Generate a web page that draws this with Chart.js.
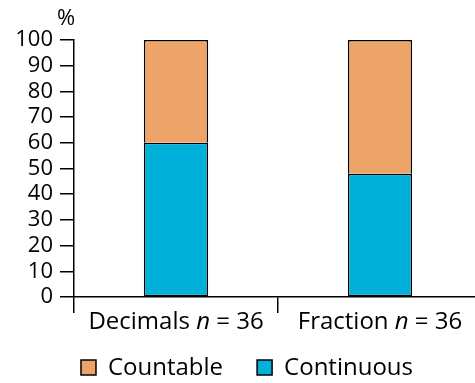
<!DOCTYPE html>
<html><head><meta charset="utf-8">
<script src="https://cdn.jsdelivr.net/npm/chart.js@4"></script>
<style>html,body{margin:0;padding:0;background:#fff;overflow:hidden;width:475px;height:383px}#w{width:482px;height:383px;position:relative}</style>
</head><body><div id="w"><canvas id="c"></canvas></div>
<script>
const categories = ['Decimals', 'Fraction'];
const nValues = [36, 36];
const continuous = [60, 48];
const countable = [40, 52];
const yTicks = [0,10,20,30,40,50,60,70,80,90,100];
const FONT = '"Open Sans", "Noto Sans", sans-serif';

const labelPlugin = {
  id: 'labels',
  afterDraw(chart) {
    const ctx = chart.ctx, xs = chart.scales.x, ys = chart.scales.y;
    ctx.save();
    ctx.fillStyle = '#000';
    ctx.textBaseline = 'middle';
    const fs = 24;
    categories.forEach((c, i) => {
      const parts = [[c + ' ', 'normal'], ['n', 'italic'], [' = ' + nValues[i], 'normal']];
      let w = 0;
      parts.forEach(p => { ctx.font = p[1] + ' ' + fs + 'px ' + FONT; w += ctx.measureText(p[0]).width; });
      let x = xs.getPixelForValue(i) - w / 2;
      const y = ys.bottom + 25;
      ctx.textAlign = 'left';
      parts.forEach(p => { ctx.font = p[1] + ' ' + fs + 'px ' + FONT; ctx.fillText(p[0], x, y); x += ctx.measureText(p[0]).width; });
    });
    // % unit
    ctx.font = '22px ' + FONT;
    ctx.textAlign = 'center';
    ctx.fillText('%', ys.right - 8, ys.top - 21);
    // legend
    const items = chart.data.datasets.slice().reverse();
    ctx.font = '24px ' + FONT;
    const box = 15, gapText = 12, gapItem = 34;
    let total = 0;
    items.forEach((d, k) => { total += box + gapText + ctx.measureText(d.label).width + (k < items.length - 1 ? gapItem : 0); });
    let x = 247 - total / 2;
    const ly = 368;
    items.forEach(d => {
      ctx.fillStyle = d.backgroundColor;
      ctx.fillRect(x, ly - 8, box, box);
      ctx.strokeStyle = '#000'; ctx.lineWidth = 1.5;
      ctx.strokeRect(x, ly - 8, box, box);
      ctx.fillStyle = '#000';
      ctx.textAlign = 'left';
      ctx.fillText(d.label, x + box + gapText, ly);
      x += box + gapText + ctx.measureText(d.label).width + gapItem;
    });
    ctx.restore();
  }
};

new Chart(document.getElementById('c'), {
  type: 'bar',
  data: {
    labels: categories.map((c, i) => c + ' n = ' + nValues[i]),
    datasets: [
      { label: 'Continuous', data: continuous, backgroundColor: '#00B0D8', borderColor: '#000', borderWidth: 1.5, borderSkipped: false, barPercentage: 0.315, categoryPercentage: 1 },
      { label: 'Countable', data: countable, backgroundColor: '#EDA468', borderColor: '#000', borderWidth: 1.5, borderSkipped: 'bottom', barPercentage: 0.315, categoryPercentage: 1 }
    ]
  },
  options: {
    responsive: true, maintainAspectRatio: false, animation: false,
    layout: { padding: { top: 40, left: 0, right: 0, bottom: 38 } },
    plugins: { tooltip: { enabled: false }, legend: { display: false } },
    scales: {
      x: {
        stacked: true,
        grid: { display: true, drawOnChartArea: false, drawTicks: true, tickLength: 16, color: '#000', lineWidth: 1.5, offset: true },
        border: { display: true, color: '#000', width: 1.5 },
        ticks: { callback: () => '', font: { size: 1 } },
        afterFit: s => { s.height = 48; }
      },
      y: {
        stacked: true, min: 0, max: 100,
        afterBuildTicks: s => { s.ticks = yTicks.map(v => ({ value: v })); },
        grid: { display: true, drawOnChartArea: false, drawTicks: true, tickLength: 14, color: '#000', lineWidth: 1.5 },
        border: { display: true, color: '#000', width: 1.5 },
        ticks: { color: '#000', font: { family: FONT, size: 22 }, padding: 7, autoSkip: false },
        afterFit: s => { s.width = 74; }
      }
    }
  },
  plugins: [labelPlugin]
});
</script></body></html>
